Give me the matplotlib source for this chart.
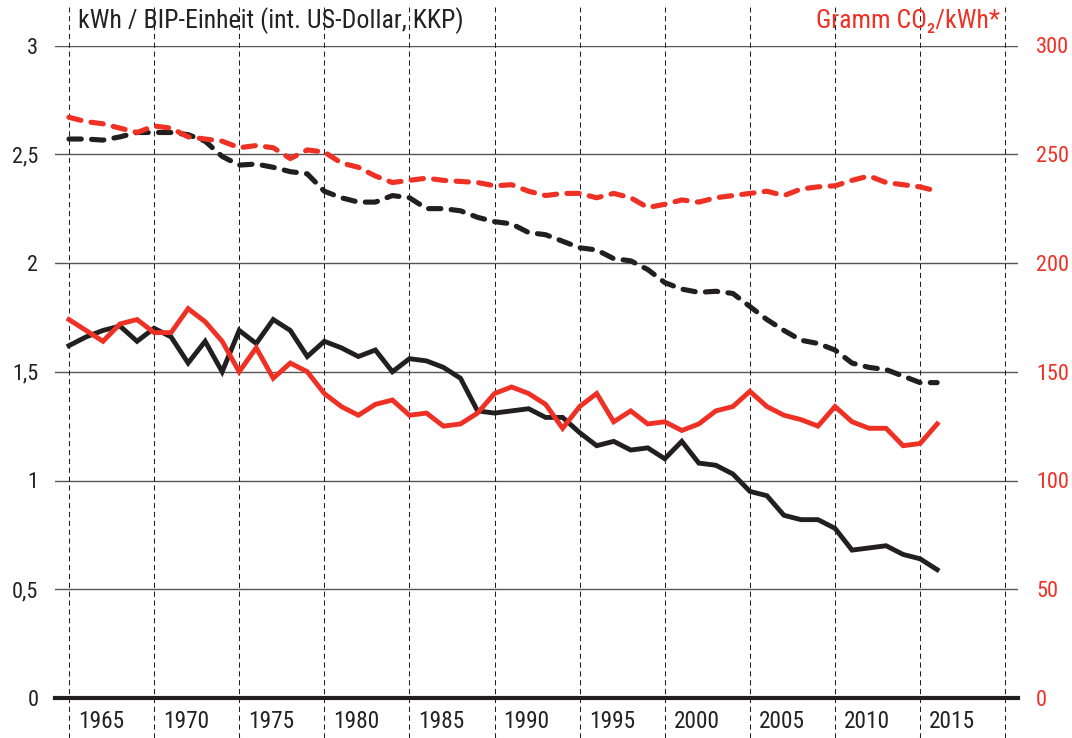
import matplotlib
matplotlib.use('Agg')
import matplotlib.pyplot as plt
import matplotlib.transforms as mtransforms
from matplotlib import font_manager as fm
import numpy as np

years = list(range(1965, 2017))

# kWh per GDP unit (left axis), solid black
energy_intensity = [1.62, 1.66, 1.69, 1.71, 1.64, 1.70, 1.66, 1.54, 1.64, 1.50,
                    1.69, 1.63, 1.74, 1.69, 1.57, 1.64, 1.61, 1.57, 1.60, 1.50,
                    1.56, 1.55, 1.52, 1.47, 1.32, 1.31, 1.32, 1.33, 1.29, 1.29,
                    1.22, 1.16, 1.18, 1.14, 1.15, 1.10, 1.18, 1.08, 1.07, 1.03,
                    0.95, 0.93, 0.84, 0.82, 0.82, 0.78, 0.68, 0.69, 0.70, 0.66,
                    0.64, 0.59]

# kWh per GDP unit (left axis), dashed black
energy_intensity_2 = [2.57, 2.57, 2.565, 2.58, 2.60, 2.60, 2.60, 2.59, 2.56, 2.49,
                      2.45, 2.455, 2.44, 2.42, 2.41, 2.33, 2.30, 2.28, 2.28, 2.31,
                      2.30, 2.25, 2.25, 2.24, 2.21, 2.19, 2.18, 2.14, 2.13, 2.10,
                      2.07, 2.06, 2.02, 2.01, 1.97, 1.91, 1.88, 1.865, 1.87, 1.86,
                      1.80, 1.74, 1.69, 1.645, 1.63, 1.60, 1.54, 1.52, 1.51, 1.48,
                      1.45, 1.45]

# gram CO2 per kWh (right axis), solid red
co2_per_kwh = [174, 169, 164, 172, 174, 168, 168, 179, 173, 164,
               150, 161, 147, 154, 150, 140, 134, 130, 135, 137,
               130, 131, 125, 126, 131, 140, 143, 140, 135, 124,
               134, 140, 127, 132, 126, 127, 123, 126, 132, 134,
               141, 134, 130, 128, 125, 134, 127, 124, 124, 116,
               117, 126]

# gram CO2 per kWh (right axis), dashed red
co2_per_kwh_2 = [267, 265, 264, 262, 260, 263, 262, 258, 257, 256,
                 253, 254, 253, 248, 252, 251, 246, 244, 240, 237,
                 238, 239, 238, 237.5, 237, 235.5, 236, 233, 231, 232,
                 232, 230, 232, 230, 225.5, 227, 229, 228, 230, 231,
                 232, 233, 231, 234, 235, 235.5, 238, 240, 237, 236,
                 235, 233]

left_ticks = [0, 0.5, 1, 1.5, 2, 2.5, 3]
left_labels = ['0', '0,5', '1', '1,5', '2', '2,5', '3']
right_ticks = [0, 50, 100, 150, 200, 250, 300]
year_ticks = list(range(1965, 2016, 5))
vlines = list(range(1965, 2021, 5))

black = '#231f20'
red = '#ee3124'

# pick a narrow font if one is installed
installed = {f.name for f in fm.fontManager.ttflist}
stretch = 'normal'
family = None
for name in ['Roboto Condensed', 'Liberation Sans Narrow', 'Noto Sans Condensed',
             'Open Sans Condensed', 'DejaVu Sans Condensed', 'Arial Narrow']:
    if name in installed:
        family = name
        break
if family is None:
    cond = [f for f in fm.fontManager.ttflist
            if 'condensed' in str(f.stretch).lower() and f.name in ('DejaVu Sans', 'Noto Sans', 'Open Sans', 'Roboto')]
    if cond:
        family = cond[0].name
        stretch = 'condensed'
    else:
        family = 'Roboto' if 'Roboto' in installed else 'DejaVu Sans'
plt.rcParams['font.family'] = [family, 'DejaVu Sans']
plt.rcParams['font.stretch'] = stretch

W, H = 1072, 738
fig = plt.figure(figsize=(W / 100, H / 100), dpi=100)
renderer = fig.canvas.get_renderer()

# size the header so it spans the same width as in the reference
title = fig.text(78 / W, 1 - 28 / H, 'kWh / BIP-Einheit (int. US-Dollar, KKP)',
                 fontsize=17, color='#222222', ha='left', va='baseline')
w = title.get_window_extent(renderer).width
scale = 384 / w
title.set_fontsize(17 * scale)
tsize = 17 * scale
lsize = min(15.5 * scale, 16)

ax = fig.add_axes([55 / W, 40 / H, 963 / W, 652.5 / H])
ax.set_xlim(1964.18, 2020.75)
ax.set_ylim(0, 3)
ax2 = ax.twinx()
ax2.set_ylim(0, 300)

for a in (ax, ax2):
    for s in a.spines.values():
        s.set_visible(False)

# horizontal grid
for t in left_ticks[1:]:
    ax.axhline(t, color='#555555', linewidth=1.0, zorder=1)
ax.axhline(0, color=black, linewidth=3.0, zorder=5, clip_on=False)

# vertical dashed lines (extend beyond the plot area)
for x in vlines:
    ax.axvline(x, ymin=-0.062, ymax=1.059, color=black, linewidth=0.75,
               linestyle=(0, (5, 3.5)), clip_on=False, zorder=1)

ax.plot(years, energy_intensity_2, color=black, linewidth=3.7,
        linestyle=(0, (2.4, 2.0)), dash_capstyle='round', zorder=3)
ax.plot(years, energy_intensity, color=black, linewidth=3.5,
        solid_joinstyle='miter', zorder=3)
ax2.plot(years, co2_per_kwh_2, color=red, linewidth=3.7,
         linestyle=(0, (2.4, 2.0)), dash_capstyle='round', zorder=4)
ax2.plot(years, co2_per_kwh, color=red, linewidth=3.5,
         solid_joinstyle='miter', zorder=4)

ax.set_yticks(left_ticks)
ax.set_yticklabels(left_labels)
ax.tick_params(axis='y', length=0, pad=12, labelsize=lsize, labelcolor='#222222')
ax2.set_yticks(right_ticks)
ax2.set_yticklabels([str(t) for t in right_ticks])
ax2.tick_params(axis='y', length=0, pad=13, labelsize=lsize, labelcolor=red)

ax.set_xticks(year_ticks)
ax.set_xticklabels([str(y) for y in year_ticks])
ax.tick_params(axis='x', length=0, pad=9, labelsize=lsize * 1.05, labelcolor='#222222')
offset = mtransforms.ScaledTranslation(9 / 100, 0, fig.dpi_scale_trans)
for lbl in ax.get_xticklabels():
    lbl.set_horizontalalignment('left')
    lbl.set_transform(lbl.get_transform() + offset)

fig.text(1000 / W, 1 - 28 / H, 'Gramm CO\u2082/kWh*',
         fontsize=tsize, color=red, ha='right', va='baseline')

fig.savefig('out.png', dpi=100)
